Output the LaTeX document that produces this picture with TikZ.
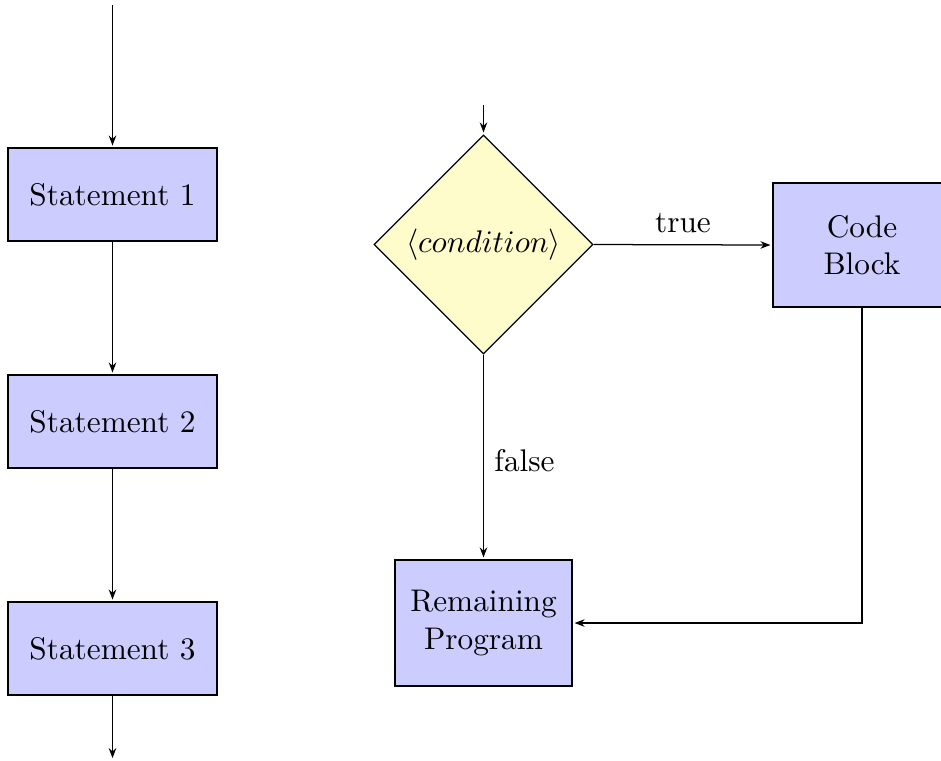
\documentclass[tikz,border=0pt]{standalone}
\usetikzlibrary{shapes.geometric,arrows.meta}
\begin{document}
\begin{tikzpicture}[x=0.3195pt,y=-0.3195pt,
  box/.style={draw=black,fill=blue!20,inner sep=0pt,align=center},
  decision/.style={diamond,draw=black,fill=yellow!20,inner sep=0pt,aspect=1,minimum width=70pt,minimum height=70pt},
  arr/.style={-{Stealth[length=3.2pt,width=2.4pt]},shorten >=0.6pt},
  lbl/.style={inner sep=0pt}]
\clip (0,0) rectangle (941,760);
% left column
\node[box,minimum width=66.8pt,minimum height=29.7pt] (s1) at (112.5,194.5) {Statement 1};
\node[box,minimum width=66.8pt,minimum height=29.7pt] (s2) at (112.5,421.5) {Statement 2};
\node[box,minimum width=66.8pt,minimum height=29.7pt] (s3) at (112.5,648.5) {Statement 3};
\coordinate (top) at (112.5,5);
\coordinate (bot) at (112.5,760);
\draw[arr] (top) -- (s1);
\draw[arr] (s1) -- (s2);
\draw[arr] (s2) -- (s3);
\draw[arr] (s3) -- (bot);
% right part
\node[decision] (c) at (483.5,244.5) {$\langle condition\rangle$};
\node[box,minimum width=56.9pt,minimum height=39.6pt,text width=40pt] (cb) at (862,245) {Code\\Block};
\node[box,minimum width=56.6pt,minimum height=40.3pt] (rp) at (483.5,623) {Remaining\\Program};
\coordinate (ctop) at (483.5,105);
\draw[arr] (ctop) -- (c);
\draw[arr] (c.east) -- (cb.west) node[lbl,midway,above=3.5pt] (t) {true};
\draw[arr] (c.south) -- (rp.north) node[lbl,pos=0.52,right=3.3pt] (f) {false};
\draw[arr] (cb.south) |- (rp.east);
\end{tikzpicture}
\end{document}
